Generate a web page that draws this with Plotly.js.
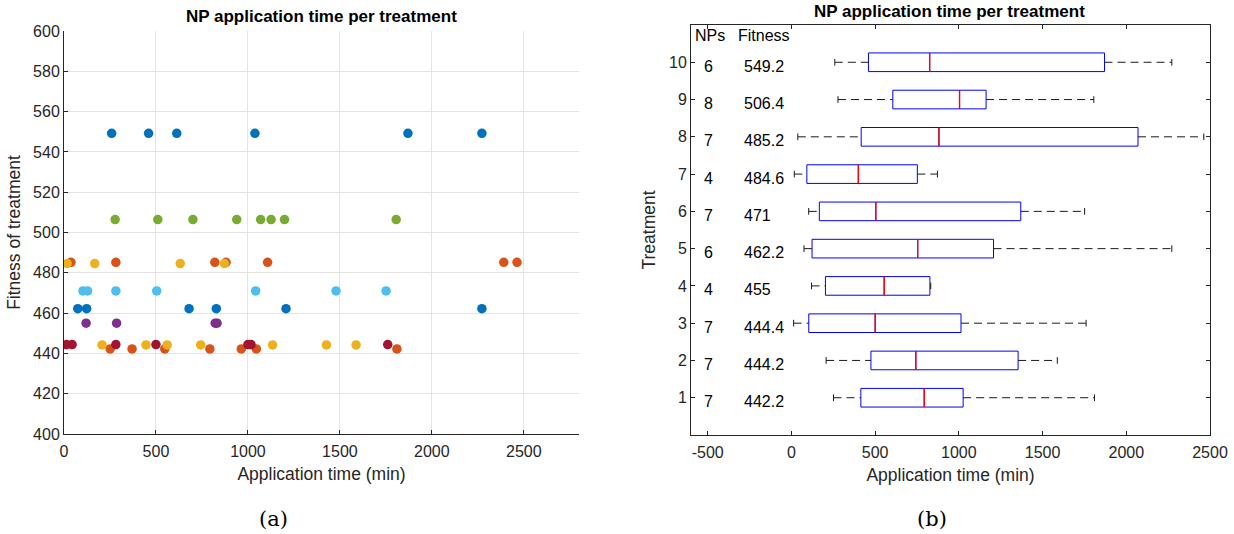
<!DOCTYPE html>
<html>
<head>
<meta charset="utf-8">
<script src="https://cdn.plot.ly/plotly-3.0.1.min.js"></script>
<style>
  html, body { margin: 0; padding: 0; background: #ffffff; }
  #chart { width: 1234px; height: 534px; }
</style>
</head>
<body>
<div id="chart"></div>
<script>
// Treatments, their fitness and the NP application times (min) of each treatment
const treatments = [1, 2, 3, 4, 5, 6, 7, 8, 9, 10];
const fitness = [442.2, 444.2, 444.4, 455, 462.2, 471, 484.6, 485.2, 506.4, 549.2];

const times1 = [251, 370, 548, 793, 964, 1046, 1810];
const times2 = [207, 446, 561, 743, 1134, 1427, 1588];
const times3 = [13, 44, 282, 500, 1000, 1017, 1760];
const times4 = [120, 286, 822, 832];
const times5 = [75, 123, 680, 828, 1207, 2272];
const times6 = [103, 128, 282, 504, 1042, 1479, 1751];
const times7 = [17, 167, 632, 872];
const times8 = [38, 282, 820, 881, 1107, 2391, 2463];
const times9 = [278, 510, 701, 939, 1069, 1126, 1199, 1806];
const times10 = [259, 460, 613, 1038, 1870, 2272];

const timesByTreatment = [times1, times2, times3, times4, times5, times6, times7, times8, times9, times10];

// Marker colour of each treatment and the order the groups are drawn in
const treatmentColors = ['#D95319', '#EDB120', '#A2142F', '#7E2F8E', '#0072BD',
                         '#4DBEEE', '#EDB120', '#D95319', '#77AC30', '#0072BD'];
const drawOrder = [10, 1, 2, 4, 9, 6, 3, 5, 8, 7];

// Tick labels
const scatterXTicks = [0, 500, 1000, 1500, 2000, 2500];
const scatterYTicks = [400, 420, 440, 460, 480, 500, 520, 540, 560, 580, 600];
const boxXTicks = [-500, 0, 500, 1000, 1500, 2000, 2500];
const boxXTickText = ['-500', '0', '500', '1000', '1500', '2000', '2500'];

const FONT = 'Liberation Sans, Arial, Helvetica, sans-serif';
const SERIF = 'DejaVu Serif, Liberation Serif, serif';
const INK = '#262626';

// Percentile with midpoint interpolation (same convention as prctile)
function percentile(values, p) {
  const s = values.slice().sort((a, b) => a - b);
  const n = s.length;
  const pos = p * n + 0.5;
  if (pos <= 1) return s[0];
  if (pos >= n) return s[n - 1];
  const lo = Math.floor(pos);
  const frac = pos - lo;
  return s[lo - 1] + frac * (s[lo] - s[lo - 1]);
}

function boxStats(values) {
  const q1 = percentile(values, 0.25);
  const med = percentile(values, 0.5);
  const q3 = percentile(values, 0.75);
  const iqr = q3 - q1;
  const inside = values.filter(v => v >= q1 - 1.5 * iqr && v <= q3 + 1.5 * iqr);
  return { q1, med, q3, lo: Math.min(...inside), hi: Math.max(...inside) };
}

const stats = timesByTreatment.map(boxStats);

const traces = [];

// (a) scatter of application time vs fitness
drawOrder.forEach(t => {
  const i = t - 1;
  traces.push({
    type: 'scatter', mode: 'markers',
    x: timesByTreatment[i],
    y: timesByTreatment[i].map(() => fitness[i]),
    marker: { color: treatmentColors[i], size: 9.5, line: { width: 0 } },
    xaxis: 'x', yaxis: 'y', showlegend: false, hoverinfo: 'x+y'
  });
});

// (b) box plot per treatment
const boxWidth = 0.5;
traces.push({
  type: 'box', orientation: 'h',
  y: treatments,
  q1: stats.map(s => s.q1),
  median: stats.map(s => s.med),
  q3: stats.map(s => s.q3),
  lowerfence: stats.map(s => s.q1),
  upperfence: stats.map(s => s.q3),
  width: boxWidth,
  whiskerwidth: 0,
  line: { color: '#0000FF', width: 1 },
  fillcolor: 'rgba(255,255,255,0)',
  xaxis: 'x2', yaxis: 'y2', showlegend: false, hoverinfo: 'x'
});

// whiskers (dashed) from the adjacent values to the box edges, caps and medians
const wx = [], wy = [];
const cx = [], cy = [];
const mx = [], my = [];
const capHalf = 0.09;
treatments.forEach((t, i) => {
  const s = stats[i];
  wx.push(s.lo, s.q1, null, s.q3, s.hi, null);
  wy.push(t, t, null, t, t, null);
  cx.push(s.lo, s.lo, null, s.hi, s.hi, null);
  cy.push(t - capHalf, t + capHalf, null, t - capHalf, t + capHalf, null);
  mx.push(s.med, s.med, null);
  my.push(t - boxWidth / 2, t + boxWidth / 2, null);
});
traces.push({
  type: 'scatter', mode: 'lines', x: wx, y: wy,
  line: { color: '#1a1a1a', width: 1, dash: '8px,5px' },
  xaxis: 'x2', yaxis: 'y2', showlegend: false, hoverinfo: 'skip'
});
traces.push({
  type: 'scatter', mode: 'lines', x: cx, y: cy,
  line: { color: '#1a1a1a', width: 1 },
  xaxis: 'x2', yaxis: 'y2', showlegend: false, hoverinfo: 'skip'
});
traces.push({
  type: 'scatter', mode: 'lines', x: mx, y: my,
  line: { color: '#FF0000', width: 1.4 },
  xaxis: 'x2', yaxis: 'y2', showlegend: false, hoverinfo: 'skip'
});

// NPs / Fitness columns beside each box
const colFont = { family: FONT, size: 16, color: '#000' };
const annotations = [
  { xref: 'x2', yref: 'y2', x: -488, y: 10.72, text: 'NPs', showarrow: false, font: colFont },
  { xref: 'x2', yref: 'y2', x: -166, y: 10.72, text: 'Fitness', showarrow: false, font: colFont }
];
treatments.forEach((t, i) => {
  annotations.push({ xref: 'x2', yref: 'y2', x: -493, y: t, yshift: -4,
    text: String(timesByTreatment[i].length), showarrow: false, font: colFont });
  annotations.push({ xref: 'x2', yref: 'y2', x: -295, y: t, yshift: -4, xanchor: 'left',
    text: String(fitness[i]), showarrow: false, font: colFont });
});

// panel titles and captions
const headFont = { family: FONT, size: 17, color: '#000' };
const capFont = { family: SERIF, size: 21, color: '#000' };
annotations.push(
  { xref: 'paper', yref: 'paper', x: 321 / 1234, y: 1 - 17 / 534, xanchor: 'center', yanchor: 'middle',
    text: '<b>NP application time per treatment</b>', showarrow: false, font: headFont },
  { xref: 'paper', yref: 'paper', x: 950 / 1234, y: 1 - 11 / 534, xanchor: 'center', yanchor: 'middle',
    text: '<b>NP application time per treatment</b>', showarrow: false, font: headFont },
  { xref: 'paper', yref: 'paper', x: 273 / 1234, y: 1 - 519 / 534, xanchor: 'center', yanchor: 'middle',
    text: '(a)', showarrow: false, font: capFont },
  { xref: 'paper', yref: 'paper', x: 932 / 1234, y: 1 - 519 / 534, xanchor: 'center', yanchor: 'middle',
    text: '(b)', showarrow: false, font: capFont }
);

const tickFont = { family: FONT, size: 16, color: INK };
const titleFont = { family: FONT, size: 17.5, color: INK };

const layout = {
  width: 1234, height: 534,
  margin: { l: 0, r: 0, t: 0, b: 0 },
  paper_bgcolor: '#ffffff', plot_bgcolor: '#ffffff',
  font: { family: FONT, color: INK },
  showlegend: false,
  xaxis: {
    domain: [64 / 1234, 579 / 1234], anchor: 'y',
    range: [0, 2800], tickvals: scatterXTicks,
    ticks: 'inside', ticklen: 4, tickcolor: INK, tickfont: tickFont, ticklabelstandoff: 3,
    showgrid: true, gridcolor: '#e3e3e3', gridwidth: 1,
    showline: true, linecolor: INK, linewidth: 1, zeroline: false,
    title: { text: 'Application time (min)', font: titleFont, standoff: 8 }
  },
  yaxis: {
    domain: [1 - 434 / 534, 1 - 31 / 534], anchor: 'x',
    range: [400, 600], tickvals: scatterYTicks,
    ticks: 'inside', ticklen: 4, tickcolor: INK, tickfont: tickFont,
    showgrid: true, gridcolor: '#e3e3e3', gridwidth: 1,
    showline: true, linecolor: INK, linewidth: 1, zeroline: false,
    title: { text: 'Fitness of treatment', font: titleFont, standoff: 7 }
  },
  xaxis2: {
    domain: [691 / 1234, 1210 / 1234], anchor: 'y2',
    range: [-600, 2500], tickvals: boxXTicks, ticktext: boxXTickText,
    ticks: 'inside', ticklen: 4, tickcolor: INK, tickfont: tickFont, ticklabelstandoff: 3,
    showgrid: false, showline: true, mirror: 'ticks',
    linecolor: INK, linewidth: 1, zeroline: false,
    title: { text: 'Application time (min)', font: titleFont, standoff: 8 }
  },
  yaxis2: {
    domain: [1 - 435 / 534, 1 - 25 / 534], anchor: 'x2',
    range: [0, 11], tickvals: treatments,
    ticks: 'inside', ticklen: 4, tickcolor: INK, tickfont: tickFont,
    showgrid: false, showline: true, mirror: 'ticks',
    linecolor: INK, linewidth: 1, zeroline: false,
    title: { text: 'Treatment', font: titleFont, standoff: 8 }
  },
  annotations: annotations
};

Plotly.newPlot('chart', traces, layout, { displayModeBar: false, staticPlot: true });
</script>
</body>
</html>
